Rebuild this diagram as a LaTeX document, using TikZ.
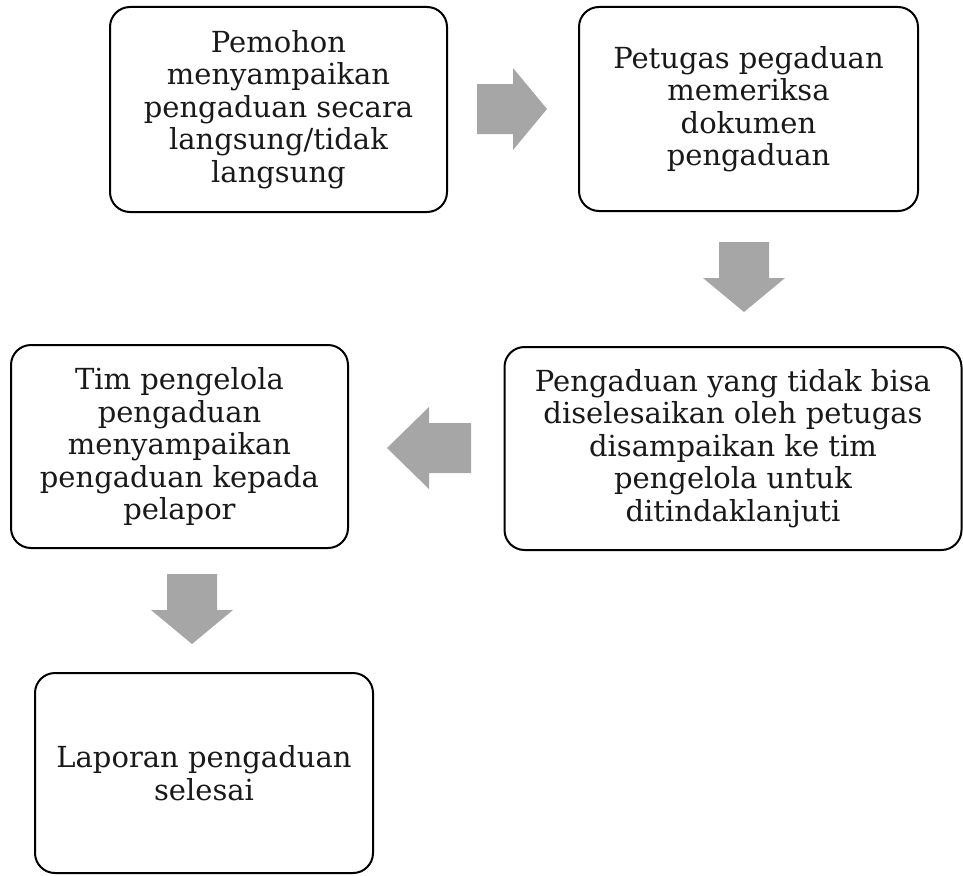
\documentclass[tikz,border=0pt]{standalone}
\usepackage{fontspec}
\setmainfont{DejaVu Serif}
\definecolor{arrowgray}{HTML}{A6A6A6}
\begin{document}
\begin{tikzpicture}[x=1pt,y=-1pt,
  stepbox/.style={draw=black,line width=2pt,rounded corners=20pt,inner sep=0pt,
    align=center,font=\fontsize{29}{32.5}\selectfont,text=black!90},
  blockarrow/.pic={\fill[arrowgray] (-35,-25) -- (1,-25) -- (1,-41) -- (35,0) -- (1,41) -- (1,25) -- (-35,25) -- cycle;},
  blockarrowl/.pic={\fill[arrowgray] (-42,-25) -- (0,-25) -- (0,-41) -- (42,0) -- (0,41) -- (0,25) -- (-42,25) -- cycle;}]
\useasboundingbox (0,0) rectangle (963,875);
\node[stepbox,minimum width=337pt,minimum height=205pt] (b1) at (278.5,109.5)
  {Pemohon\\menyampaikan\\pengaduan secara\\langsung/tidak\\langsung};
\node[stepbox,minimum width=339pt,minimum height=204pt] (b2) at (748.5,109)
  {Petugas pegaduan\\memeriksa\\dokumen\\pengaduan};
\node[stepbox,minimum width=457pt,minimum height=203pt] (b3) at (733,448.5)
  {Pengaduan yang tidak bisa\\diselesaikan oleh petugas\\disampaikan ke tim\\pengelola untuk\\ditindaklanjuti};
\node[stepbox,minimum width=337pt,minimum height=203pt] (b4) at (179.5,446.5)
  {Tim pengelola\\pengaduan\\menyampaikan\\pengaduan kepada\\pelapor};
\node[stepbox,minimum width=338pt,minimum height=200pt] (b5) at (204,773)
  {Laporan pengaduan\\selesai};
\pic at (512,109) {blockarrow};
\pic[rotate=-90] at (744,277) {blockarrow};
\pic[rotate=180] at (429,448) {blockarrowl};
\pic[rotate=-90] at (192,609) {blockarrow};
\end{tikzpicture}
\end{document}
